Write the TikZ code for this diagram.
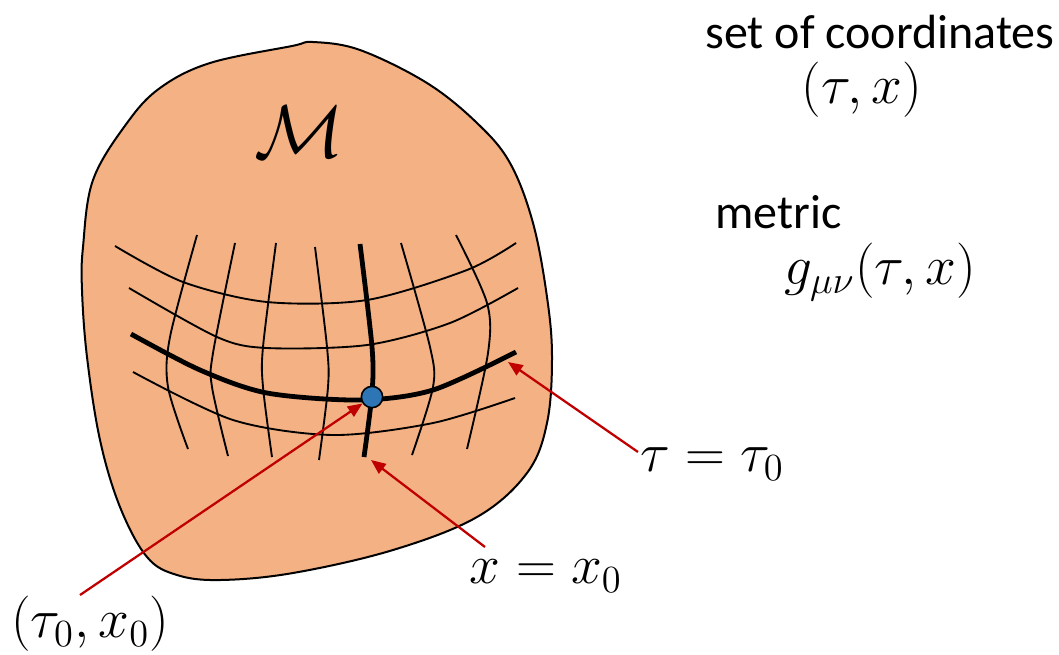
\documentclass[tikz,border=0pt]{standalone}
\usepackage{fontspec}
\setmainfont{Carlito}
\usetikzlibrary{arrows.meta}
\definecolor{mfOrange}{HTML}{F4B183}
\definecolor{mfBlue}{HTML}{2E75B6}
\definecolor{mfRed}{HTML}{C00000}

\begin{document}
\begin{tikzpicture}[x=0.75pt,y=-0.75pt,
  gridline/.style={line width=1.4pt},
  gridbold/.style={line width=3.6pt},
  ptr/.style={-{Triangle[length=11pt,width=9pt]},mfRed,line width=1.7pt},
  lbl/.style={font=\fontsize{20}{24}\selectfont,inner sep=0pt,scale=2},
  txt/.style={font=\fontsize{36}{42}\selectfont,inner sep=0pt}]
  \useasboundingbox (0,0) rectangle (1059,654);
  % the manifold
  \draw[fill=mfOrange,line width=1.5pt] plot[smooth cycle,tension=0.6] coordinates {
    (313,42) (360,50) (427,83) (477,123) (510,163) (533,223) (547,297)
    (552,357) (547,423) (527,473) (477,517) (393,550) (293,573) (220,580)
    (177,575) (147,557) (120,507) (100,440) (87,357) (82,290) (83,247)
    (93,180) (127,123) (160,88) (210,63) (292,46)};
  \node[font=\fontsize{20}{24}\selectfont,inner sep=0pt,scale=2.7] (man) at (299,132) {$\mathcal{M}$};
  % coordinate grid
  \foreach \pts in {
    {(115,246) (183,282) (267,302) (367,300) (467,270) (516,243)},
    {(129,288) (217,337) (267,348) (367,345) (450,323) (518,288)},
    {(133,372) (233,420) (333,435) (433,423) (515,398)},
    {(197,235) (170,337) (168,387) (188,449)},
    {(235,243) (213,353) (212,387) (228,456)},
    {(276,243) (263,347) (263,387) (272,457)},
    {(315,247) (327,347) (328,387) (319,460)},
    {(401,243) (430,347) (433,387) (412,455)},
    {(456,235) (487,303) (488,353) (467,449)}}
    \draw[gridline] plot[smooth] coordinates {\pts};
  \draw[gridbold] plot[smooth] coordinates {(131,334) (200,370) (267,393) (360,400) (433,390) (516,352)};
  \draw[gridbold] plot[smooth] coordinates {(360,244) (372,347) (372,393) (364,457)};
  \node[circle,draw,fill=mfBlue,line width=1.2pt,minimum size=16pt,inner sep=0pt] (p0) at (372,397) {};
  % labels
  \node[lbl] (lblP) at (90,624) {$(\tau_0,x_0)$};
  \node[lbl] (lblX) at (546,576) {$x=x_0$};
  \node[lbl] (lblT) at (712,464) {$\tau=\tau_0$};
  \node[txt] (set) at (880,32) {set of coordinates};
  \node[lbl] (tx) at (862,90) {$(\tau,x)$};
  \node[txt,anchor=west] (met) at (715,212) {metric};
  \node[lbl] (g) at (880,272) {$g_{\mu\nu}(\tau,x)$};
  % pointers
  \coordinate (tailP) at (80,595);
  \coordinate (tailX) at (485,547);
  \coordinate (tailT) at (638,452);
  \coordinate (xEnd) at (371,460);
  \coordinate (tauEnd) at (508,362);
  \draw[ptr] (tailP) -- (p0);
  \draw[ptr] (tailX) -- (xEnd);
  \draw[ptr] (tailT) -- (tauEnd);
\end{tikzpicture}
\end{document}
